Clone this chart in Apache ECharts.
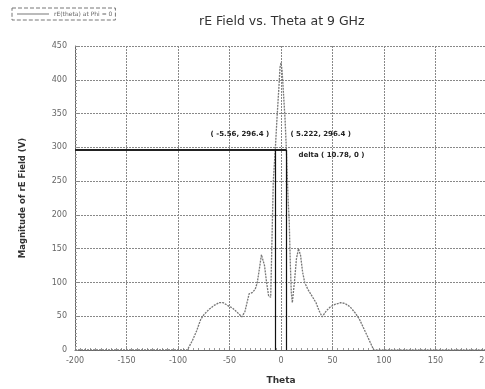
<!DOCTYPE html>
<html>
<head>
<meta charset="utf-8">
<script src="https://cdn.jsdelivr.net/npm/echarts@6/dist/echarts.min.js"></script>
<style>
  html, body { margin: 0; padding: 0; background: #fff; }
  #chart { width: 485px; height: 389px; }
</style>
</head>
<body>
<div id="chart"></div>
<script>
// theta (deg) and |rE| (V)
const theta = [-200, -150, -100, -91, -86, -82, -78, -75, -70, -65, -60, -56, -52, -47, -42, -38,
  -35, -33, -31, -28, -25, -23, -21, -19, -16, -14, -12, -10, -9, -7.5, -5.56, -4, -2, -1, 0,
  1, 2, 4, 5.222, 6, 7, 8, 9, 10, 11, 13, 15, 17, 19, 21, 23, 26, 30, 34, 37, 40, 44, 48, 53,
  58, 62, 67, 72, 76, 80, 84, 87, 90, 100, 150, 200]
const rE = [0, 0, 0, 0, 14, 28, 45, 52, 60, 66, 70, 70, 66, 62, 55, 49,
  57, 70, 83, 85, 90, 100, 120, 141, 125, 100, 80, 78, 80, 250, 296.4, 340, 390, 418, 425,
  415, 390, 340, 296.4, 260, 220, 190, 130, 85, 70, 100, 135, 150, 140, 115, 100, 90, 80, 70, 58, 49, 58, 64, 68,
  70, 69, 64, 55, 46, 33, 20, 10, 0, 0, 0, 0]
const xTicks = [-200, 200, 50]
const yTicks = [0, 450, 50]
const markerA = [-5.56, 296.4]
const markerB = [5.222, 296.4]
const delta = [10.78, 0]

const font = 'DejaVu Sans'
const chart = echarts.init(document.getElementById('chart'))
const option = {
  animation: false,
  title: {
    text: 'rE Field vs. Theta at 9 GHz',
    left: 194,
    top: 10,
    textStyle: { fontFamily: font, fontSize: 12.5, fontWeight: 'normal', color: '#333' }
  },
  legend: {
    left: 12,
    top: 8,
    padding: [3, 3, 3, 5],
    icon: 'rect',
    itemWidth: 32,
    itemHeight: 1,
    itemGap: 4,
    borderColor: '#777',
    borderWidth: 1,
    borderType: 'dashed',
    borderRadius: 0,
    textStyle: { fontFamily: font, fontSize: 6, color: '#666' },
    data: ['rE(theta) at Phi = 0']
  },
  grid: { left: 75, top: 46, width: 412, bottom: 39, outerBoundsMode: 'none', containLabel: false },
  xAxis: {
    type: 'value',
    min: xTicks[0],
    max: xTicks[1],
    interval: xTicks[2],
    name: 'Theta',
    nameLocation: 'middle',
    nameGap: 26,
    nameTextStyle: { fontFamily: font, fontSize: 9, fontWeight: 'bold', color: '#333' },
    axisLine: { onZero: false, lineStyle: { color: '#666' } },
    axisTick: { inside: true, length: 3, lineStyle: { color: '#888' } },
    minorTick: { show: true, splitNumber: 10, length: 2, lineStyle: { color: '#999' } },
    axisLabel: { fontFamily: font, fontSize: 8, color: '#666', margin: 7, showMaxLabel: true },
    splitLine: { lineStyle: { color: '#888', type: [2, 1] } }
  },
  yAxis: {
    type: 'value',
    min: yTicks[0],
    max: yTicks[1],
    interval: yTicks[2],
    name: 'Magnitude of rE Field (V)',
    nameLocation: 'middle',
    nameGap: 48,
    nameTextStyle: { fontFamily: font, fontSize: 8.5, fontWeight: 'bold', color: '#333' },
    axisLine: { show: true, onZero: false, lineStyle: { color: '#666' } },
    axisTick: { show: true, inside: true, length: 3, lineStyle: { color: '#888' } },
    minorTick: { show: true, splitNumber: 10, length: 2, lineStyle: { color: '#999' } },
    axisLabel: { fontFamily: font, fontSize: 8, color: '#666', margin: 8 },
    splitLine: { lineStyle: { color: '#888', type: [2, 1] } }
  },
  series: [{
    name: 'rE(theta) at Phi = 0',
    type: 'line',
    symbol: 'none',
    data: theta.map((t, i) => [t, rE[i]]),
    lineStyle: { color: '#777', width: 1.3, type: [2, 1] },
    itemStyle: { color: '#777' },
    markLine: {
      silent: true,
      symbol: 'none',
      label: { show: false },
      data: [
        [{ coord: [xTicks[0], markerA[1]] }, { coord: [markerB[0], markerB[1]], lineStyle: { width: 2, color: '#222' } }],
        [{ coord: [markerA[0], 0] }, { coord: markerA }],
        [{ coord: [markerB[0], 0] }, { coord: markerB }]
      ],
      lineStyle: { color: '#111', width: 1.2, type: 'solid' }
    },
    markPoint: {
      silent: true,
      symbol: 'circle',
      symbolSize: 0,
      data: [
        { coord: markerA, label: { formatter: '( ' + markerA[0] + ', ' + markerA[1] + ' )', align: 'right', offset: [-6, -16] } },
        { coord: markerB, label: { formatter: '( ' + markerB[0] + ', ' + markerB[1] + ' )', align: 'left', offset: [4, -16] } },
        { coord: markerB, label: { formatter: 'delta ( ' + delta[0] + ', ' + delta[1] + ' )', align: 'left', offset: [12, 5] } }
      ],
      label: { show: true, position: 'inside', fontFamily: font, fontSize: 7, fontWeight: 'bold', color: '#222' }
    }
  }]
}
chart.setOption(option)
</script>
</body>
</html>
